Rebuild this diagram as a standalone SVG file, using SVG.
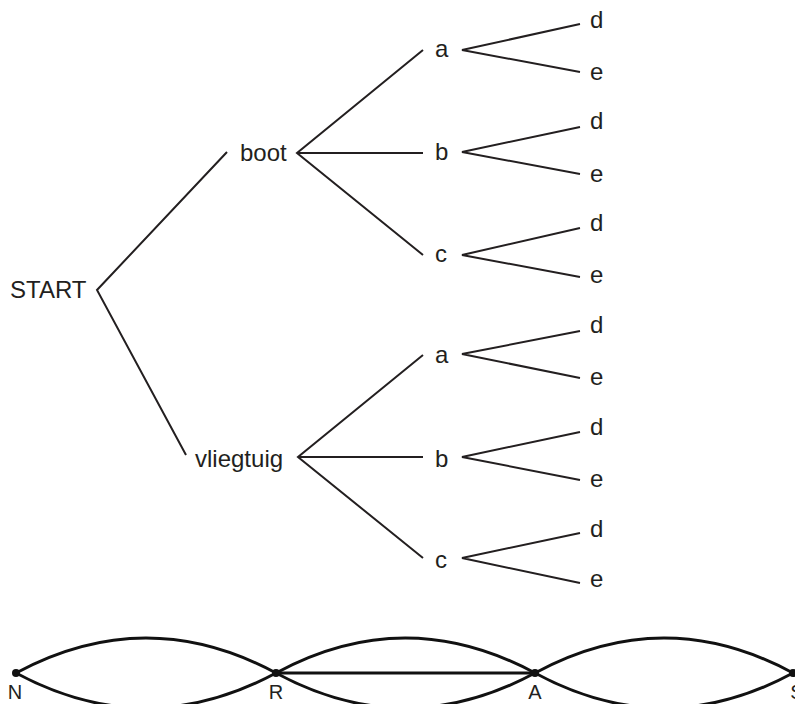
<svg xmlns="http://www.w3.org/2000/svg" width="795" height="704" viewBox="0 0 795 704">
  <style>
    .lbl { font-family: "Liberation Sans", Arial, sans-serif; font-size: 24px; fill: #231f20; }
    .pt { font-family: "Liberation Sans", Arial, sans-serif; font-size: 20px; fill: #231f20; text-anchor: middle; }
    .edge { stroke: #231f20; stroke-width: 2; fill: none; }
    .route { stroke: #111; stroke-width: 3; fill: none; }
  </style>
  <rect width="795" height="704" fill="#ffffff"/>

  <!-- tree connectors -->
  <g id="connectors">
    <polyline class="edge" points="227,152 97,290 186,455"/>
    <polyline class="edge" points="423,50 297,153 423,255"/>
    <line class="edge" x1="297" y1="153" x2="423" y2="153"/>
    <polyline class="edge" points="423,355 298,457 423,558"/>
    <line class="edge" x1="298" y1="457" x2="423" y2="457"/>
    <polyline class="edge" points="580,24 462,50 580,72"/>
    <polyline class="edge" points="580,127 462,152 580,174"/>
    <polyline class="edge" points="580,228 462,255 580,277"/>
    <polyline class="edge" points="580,331 462,354 580,378"/>
    <polyline class="edge" points="580,432 462,457 580,480"/>
    <polyline class="edge" points="580,533 462,558 580,583"/>
  </g>

  <g id="start"><text class="lbl" x="10" y="298">START</text></g>
  <g id="boot"><text class="lbl" x="240" y="161">boot</text></g>
  <g id="vliegtuig"><text class="lbl" x="195" y="467">vliegtuig</text></g>

  <g id="boot-a"><text class="lbl" x="435" y="57">a</text></g>
  <g id="boot-b"><text class="lbl" x="435" y="160">b</text></g>
  <g id="boot-c"><text class="lbl" x="435" y="262">c</text></g>
  <g id="vliegtuig-a"><text class="lbl" x="435" y="363">a</text></g>
  <g id="vliegtuig-b"><text class="lbl" x="435" y="467">b</text></g>
  <g id="vliegtuig-c"><text class="lbl" x="435" y="568">c</text></g>

  <g id="boot-a-d"><text class="lbl" x="590" y="28">d</text></g>
  <g id="boot-a-e"><text class="lbl" x="590" y="80">e</text></g>
  <g id="boot-b-d"><text class="lbl" x="590" y="129">d</text></g>
  <g id="boot-b-e"><text class="lbl" x="590" y="182">e</text></g>
  <g id="boot-c-d"><text class="lbl" x="590" y="231">d</text></g>
  <g id="boot-c-e"><text class="lbl" x="590" y="283">e</text></g>
  <g id="vliegtuig-a-d"><text class="lbl" x="590" y="333">d</text></g>
  <g id="vliegtuig-a-e"><text class="lbl" x="590" y="385">e</text></g>
  <g id="vliegtuig-b-d"><text class="lbl" x="590" y="435">d</text></g>
  <g id="vliegtuig-b-e"><text class="lbl" x="590" y="487">e</text></g>
  <g id="vliegtuig-c-d"><text class="lbl" x="590" y="537">d</text></g>
  <g id="vliegtuig-c-e"><text class="lbl" x="590" y="587">e</text></g>

  <!-- route graph N - R - A - S -->
  <g id="routes">
    <path class="route" d="M16,673 Q146,603 276,673"/>
    <path class="route" d="M16,673 Q146,743 276,673"/>
    <path class="route" d="M276,673 Q405,603 535,673"/>
    <path class="route" d="M276,673 Q405,743 535,673"/>
    <line class="route" x1="276" y1="673" x2="535" y2="673"/>
    <path class="route" d="M535,673 Q664,603 793,673"/>
    <path class="route" d="M535,673 Q664,743 793,673"/>
  </g>

  <g id="N"><circle cx="16" cy="673" r="4" fill="#111"/><text class="pt" x="15" y="699">N</text></g>
  <g id="R"><circle cx="276" cy="673" r="4" fill="#111"/><text class="pt" x="276" y="699">R</text></g>
  <g id="A"><circle cx="535" cy="673" r="4" fill="#111"/><text class="pt" x="535" y="699">A</text></g>
  <g id="S"><circle cx="793" cy="673" r="4" fill="#111"/><text class="pt" x="797" y="699">S</text></g>
</svg>
